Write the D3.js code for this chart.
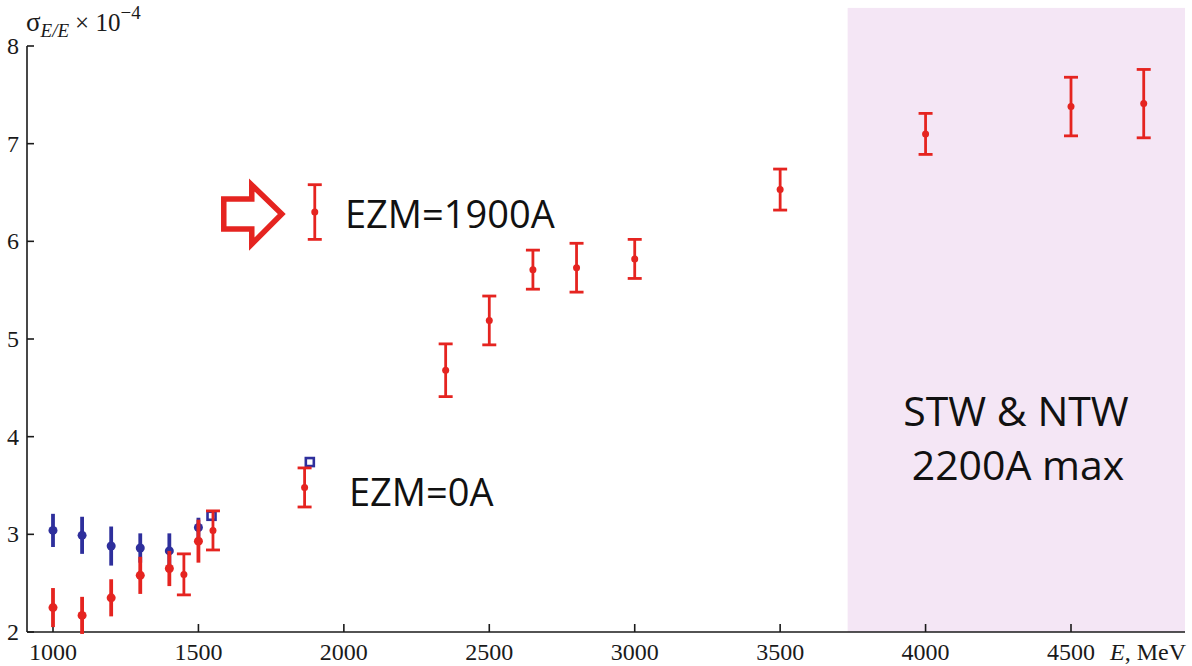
<!DOCTYPE html>
<html>
<head>
<meta charset="utf-8">
<script src="https://cdn.jsdelivr.net/npm/d3@7"></script>
<style>
  html, body { margin: 0; padding: 0; background: #fff; }
  svg { display: block; }
</style>
</head>
<body>
<svg id="chart" width="1192" height="666"></svg>
<script>
// Energy spread vs beam energy, sigma_E/E (x 1e-4)

// EZM = 0A measurements (red, low energies)
const redLowE   = [1000, 1100, 1200, 1300, 1400, 1450, 1500, 1550, 1865];
const redLowV   = [2.25, 2.17, 2.35, 2.58, 2.65, 2.59, 2.93, 3.04, 3.48];
const redLowErr = [0.20, 0.19, 0.19, 0.19, 0.18, 0.21, 0.22, 0.20, 0.20];
const redLowCap = [false, false, false, false, false, true, false, true, true];

// EZM = 1900A measurements (red, capped error bars)
const redHighE   = [1900, 2350, 2500, 2650, 2800, 3000, 3500, 4000, 4500, 4750];
const redHighV   = [6.30, 4.68, 5.19, 5.71, 5.73, 5.82, 6.53, 7.10, 7.38, 7.41];
const redHighErr = [0.28, 0.27, 0.25, 0.20, 0.25, 0.20, 0.21, 0.21, 0.30, 0.35];

// Blue series
const blueE   = [1000, 1100, 1200, 1300, 1400, 1500];
const blueV   = [3.04, 2.99, 2.88, 2.86, 2.83, 3.07];
const blueErr = [0.17, 0.19, 0.20, 0.15, 0.18, 0.10];

// Blue open squares
const blueSqE = [1545, 1883];
const blueSqV = [3.19, 3.74];

// Axis ticks
const xTicks = [1000, 1500, 2000, 2500, 3000, 3500, 4000, 4500];
const yTicks = [2, 3, 4, 5, 6, 7, 8];

// Shaded band where STW & NTW are limited
const bandStart = 3732;

const RED = "#e52420";
const BLUE = "#2e2f9c";
const INK = "#1a1a1a";

const svg = d3.select("#chart");

const x = d3.scaleLinear().domain([1000, 4500]).range([53, 1071]);
const y = d3.scaleLinear().domain([2, 8]).range([632, 46]);
const xMin = x.invert(27), xMax = x.invert(1185);

// shaded band
svg.append("rect")
  .attr("x", x(bandStart))
  .attr("y", y(8.39))
  .attr("width", x(xMax) - x(bandStart))
  .attr("height", y(2) - y(8.39))
  .attr("fill", "#f4e6f5");

// axes
const axisG = svg.append("g").attr("stroke", INK).attr("stroke-width", 1.6).attr("fill", "none");
axisG.append("line").attr("x1", x(xMin)).attr("x2", x(xMax)).attr("y1", y(2)).attr("y2", y(2));
axisG.append("line").attr("x1", x(xMin)).attr("x2", x(xMin)).attr("y1", y(2)).attr("y2", y(8));

axisG.selectAll(".xt").data(xTicks).join("line")
  .attr("x1", d => x(d)).attr("x2", d => x(d))
  .attr("y1", y(2)).attr("y2", y(2) - 8);
axisG.selectAll(".yt").data(yTicks).join("line")
  .attr("x1", x(xMin)).attr("x2", x(xMin) + 7)
  .attr("y1", d => y(d)).attr("y2", d => y(d));

const serif = "'Liberation Serif', 'DejaVu Serif', serif";

svg.selectAll(".xl").data(xTicks).join("text")
  .attr("x", d => x(d)).attr("y", 660)
  .attr("text-anchor", "middle")
  .attr("font-family", serif).attr("font-size", 24).attr("fill", INK)
  .text(d => d);

svg.selectAll(".yl").data(yTicks).join("text")
  .attr("x", 19).attr("y", d => y(d) + 8)
  .attr("text-anchor", "end")
  .attr("font-family", serif).attr("font-size", 24).attr("fill", INK)
  .text(d => d);

// x axis unit
const xu = svg.append("text").attr("x", 1110).attr("y", 660)
  .attr("font-family", serif).attr("font-size", 24).attr("fill", INK);
xu.append("tspan").attr("font-style", "italic").text("E");
xu.append("tspan").text(", MeV");

// y axis title
const yt = svg.append("text").attr("x", 26).attr("y", 31)
  .attr("font-family", serif).attr("font-size", 27).attr("fill", INK);
yt.append("tspan").text("σ");
yt.append("tspan").attr("font-style", "italic").attr("font-size", 19).attr("dy", 6).text("E/E");
yt.append("tspan").attr("font-size", 25).attr("dy", -6).attr("dx", 6).text("× 10");
yt.append("tspan").attr("font-size", 19).attr("dy", -12).text("−4");

// error bars with dots
function drawSeries(E, V, Err, caps, color, width) {
  const g = svg.append("g");
  E.forEach((e, i) => {
    const cx = x(e), lo = y(V[i] - Err[i]), hi = y(V[i] + Err[i]);
    const capped = caps[i];
    g.append("line").attr("x1", cx).attr("x2", cx).attr("y1", lo).attr("y2", hi)
      .attr("stroke", color).attr("stroke-width", capped ? 2.8 : width);
    if (capped) {
      [lo, hi].forEach(yy => g.append("line")
        .attr("x1", cx - 7).attr("x2", cx + 7).attr("y1", yy).attr("y2", yy)
        .attr("stroke", color).attr("stroke-width", 2.8));
    }
    g.append("circle").attr("cx", cx).attr("cy", y(V[i]))
      .attr("r", capped ? 3.5 : 4.5).attr("fill", color);
  });
}

drawSeries(blueE, blueV, blueErr, blueE.map(() => false), BLUE, 3.8);

// blue open squares
svg.selectAll(".sq").data(blueSqE).join("rect")
  .attr("x", d => x(d) - 4).attr("y", (d, i) => y(blueSqV[i]) - 4)
  .attr("width", 8).attr("height", 8)
  .attr("fill", "#fff").attr("stroke", BLUE).attr("stroke-width", 2.6);

drawSeries(redLowE, redLowV, redLowErr, redLowCap, RED, 3.8);
drawSeries(redHighE, redHighV, redHighErr, redHighE.map(() => true), RED, 2.8);

// hollow arrow pointing at the 1900A point
const tipX = x(1900) - 33, tipY = y(6.30) + 2;
const arrow = d3.path();
arrow.moveTo(tipX, tipY);
arrow.lineTo(tipX - 30, tipY - 29);
arrow.lineTo(tipX - 30, tipY - 15);
arrow.lineTo(tipX - 58, tipY - 15);
arrow.lineTo(tipX - 58, tipY + 15);
arrow.lineTo(tipX - 30, tipY + 15);
arrow.lineTo(tipX - 30, tipY + 30);
arrow.closePath();
svg.append("path").attr("d", arrow.toString())
  .attr("fill", "#fff").attr("stroke", RED).attr("stroke-width", 5.5)
  .attr("stroke-linejoin", "miter");

// annotations
const sans = "'Open Sans', 'Liberation Sans', sans-serif";
svg.append("text").attr("x", 345).attr("y", 228)
  .attr("font-family", sans).attr("font-size", 38).attr("fill", "#111")
  .text("EZM=1900A");
svg.append("text").attr("x", 349).attr("y", 506)
  .attr("font-family", sans).attr("font-size", 38).attr("fill", "#111")
  .text("EZM=0A");
svg.append("text").attr("x", 1016).attr("y", 426)
  .attr("text-anchor", "middle")
  .attr("font-family", sans).attr("font-size", 41).attr("fill", "#111")
  .text("STW & NTW");
svg.append("text").attr("x", 1018).attr("y", 480)
  .attr("text-anchor", "middle")
  .attr("font-family", sans).attr("font-size", 41).attr("fill", "#111")
  .text("2200A max");
</script>
</body>
</html>
